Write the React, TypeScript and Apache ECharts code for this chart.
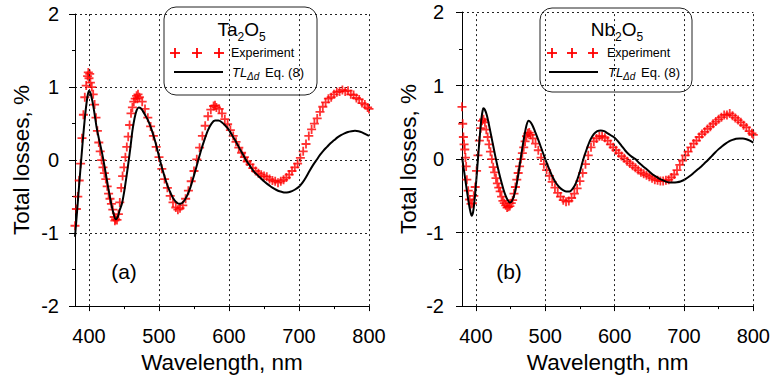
import React, { useEffect, useRef } from "react";
import * as echarts from "echarts";

// ---- Data ----
const majorTicks = [400, 500, 600, 700, 800];
const minorTicks = [450, 550, 650, 750];

// (a) Ta2O5, model TL_Δd Eq. (8)
const taModelX = [380, 383, 386, 389, 392, 395, 398, 400, 402, 405, 408, 411, 414, 417, 420, 423, 426, 429, 432, 435, 438, 441, 444, 447, 450, 453, 456, 459, 462, 465, 468, 471, 474, 477, 480, 485, 490, 495, 500, 505, 510, 515, 520, 525, 530, 535, 540, 545, 550, 555, 560, 565, 570, 575, 580, 585, 590, 595, 600, 605, 610, 615, 620, 625, 630, 635, 640, 645, 650, 655, 660, 665, 670, 675, 680, 685, 690, 695, 700, 705, 710, 715, 720, 725, 730, 735, 740, 745, 750, 755, 760, 765, 770, 775, 780, 785, 790, 795, 800];
const taModelY = [-1.05, -0.7, -0.33, 0.02, 0.36, 0.66, 0.88, 0.95, 0.92, 0.8, 0.63, 0.44, 0.3, 0.17, 0.03, -0.13, -0.3, -0.46, -0.61, -0.73, -0.81, -0.78, -0.68, -0.6, -0.45, -0.26, -0.06, 0.16, 0.4, 0.57, 0.68, 0.72, 0.71, 0.67, 0.62, 0.53, 0.4, 0.24, 0.05, -0.13, -0.29, -0.42, -0.52, -0.58, -0.6, -0.57, -0.49, -0.37, -0.21, -0.04, 0.13, 0.28, 0.41, 0.5, 0.54, 0.54, 0.515, 0.47, 0.41, 0.33, 0.25, 0.16, 0.076, -0.01, -0.08, -0.15, -0.2, -0.245, -0.29, -0.33, -0.365, -0.395, -0.42, -0.435, -0.445, -0.44, -0.425, -0.4, -0.365, -0.31, -0.235, -0.15, -0.07, 0.0, 0.07, 0.13, 0.18, 0.23, 0.27, 0.31, 0.34, 0.365, 0.385, 0.395, 0.4, 0.395, 0.38, 0.355, 0.33];

// (a) Ta2O5, experiment
const taExpX = [380, 382, 384, 386, 388, 390, 392, 394, 396, 398, 399, 400, 401, 402, 404, 406, 408, 410, 412, 414, 416, 418, 420, 422, 424, 426, 428, 430, 432, 434, 436, 437, 438, 440, 442, 444, 446, 448, 450, 452, 454, 456, 458, 460, 462, 464, 466, 468, 469, 470, 472, 476, 480, 484, 488, 492, 496, 500, 504, 508, 512, 516, 520, 524, 527, 530, 534, 538, 542, 546, 550, 554, 558, 562, 566, 570, 574, 578, 580, 582, 586, 590, 594, 598, 602, 606, 610, 614, 618, 622, 626, 630, 634, 638, 642, 646, 650, 654, 658, 662, 666, 670, 674, 678, 682, 686, 690, 694, 698, 702, 706, 710, 714, 718, 722, 726, 730, 734, 738, 742, 746, 750, 754, 758, 762, 766, 770, 774, 778, 782, 786, 790, 794, 798, 800];
const taExpY = [-0.9, -0.67, -0.5, -0.28, -0.05, 0.3, 0.62, 0.86, 1.02, 1.15, 1.2, 1.12, 1.18, 1.06, 1.0, 0.9, 0.76, 0.58, 0.4, 0.24, 0.12, 0.0, -0.1, -0.18, -0.26, -0.36, -0.46, -0.53, -0.6, -0.68, -0.78, -0.83, -0.81, -0.82, -0.74, -0.58, -0.38, -0.22, -0.1, 0.04, 0.18, 0.32, 0.48, 0.64, 0.72, 0.8, 0.84, 0.88, 0.84, 0.9, 0.86, 0.8, 0.7, 0.58, 0.46, 0.33, 0.18, 0.04, -0.12, -0.26, -0.38, -0.49, -0.58, -0.65, -0.68, -0.66, -0.62, -0.53, -0.42, -0.29, -0.15, 0.01, 0.17, 0.33, 0.47, 0.6, 0.69, 0.74, 0.75, 0.72, 0.7, 0.64, 0.56, 0.49, 0.41, 0.33, 0.25, 0.17, 0.1, 0.04, -0.02, -0.06, -0.11, -0.15, -0.18, -0.2, -0.22, -0.23, -0.26, -0.28, -0.29, -0.31, -0.29, -0.27, -0.24, -0.2, -0.15, -0.1, -0.05, 0.03, 0.12, 0.22, 0.33, 0.42, 0.5, 0.57, 0.66, 0.73, 0.79, 0.84, 0.86, 0.9, 0.93, 0.94, 0.96, 0.94, 0.95, 0.9, 0.89, 0.85, 0.83, 0.78, 0.76, 0.72, 0.7];

// (b) Nb2O5, model TL_Δd Eq. (8)
const nbModelX = [380, 382, 384, 386, 388, 390, 392, 394, 396, 398, 400, 402, 404, 406, 408, 410, 411, 413, 416, 419, 422, 425, 428, 431, 434, 437, 440, 443, 446, 449, 452, 455, 458, 461, 464, 467, 470, 473, 476, 479, 482, 485, 490, 495, 500, 505, 510, 515, 520, 525, 530, 535, 540, 545, 550, 555, 560, 565, 570, 575, 580, 585, 590, 595, 600, 605, 610, 615, 620, 625, 630, 635, 640, 645, 650, 655, 660, 665, 670, 675, 680, 685, 690, 695, 700, 705, 710, 715, 720, 725, 730, 735, 740, 745, 750, 755, 760, 765, 770, 775, 780, 785, 790, 795, 800];
const nbModelY = [0.03, -0.1, -0.23, -0.36, -0.49, -0.61, -0.71, -0.77, -0.72, -0.57, -0.36, -0.12, 0.12, 0.35, 0.55, 0.67, 0.69, 0.67, 0.59, 0.46, 0.32, 0.18, 0.04, -0.09, -0.21, -0.32, -0.42, -0.5, -0.56, -0.59, -0.57, -0.5, -0.38, -0.22, -0.03, 0.15, 0.32, 0.46, 0.52, 0.5, 0.45, 0.38, 0.26, 0.13, 0.0, -0.12, -0.23, -0.32, -0.38, -0.42, -0.44, -0.44, -0.4, -0.31, -0.17, 0.0, 0.14, 0.26, 0.34, 0.38, 0.39, 0.38, 0.35, 0.32, 0.29, 0.24, 0.18, 0.12, 0.07, 0.03, 0.0, -0.05, -0.09, -0.13, -0.17, -0.21, -0.24, -0.27, -0.29, -0.31, -0.32, -0.32, -0.315, -0.305, -0.285, -0.255, -0.22, -0.18, -0.14, -0.1, -0.055, -0.01, 0.04, 0.09, 0.135, 0.175, 0.21, 0.24, 0.26, 0.275, 0.28, 0.28, 0.27, 0.25, 0.225];

// (b) Nb2O5, experiment
const nbExpX = [380, 381, 382, 383, 384, 385, 386, 387, 389, 391, 393, 395, 397, 399, 401, 403, 405, 407, 409, 411, 413, 415, 417, 419, 421, 423, 425, 427, 429, 431, 433, 435, 437, 439, 441, 443, 445, 447, 449, 451, 453, 455, 457, 459, 461, 463, 465, 467, 469, 471, 473, 475, 477, 479, 482, 486, 490, 494, 498, 502, 506, 510, 514, 518, 522, 526, 530, 534, 538, 542, 546, 550, 554, 558, 562, 566, 570, 574, 578, 582, 586, 590, 594, 598, 602, 606, 610, 614, 618, 622, 626, 630, 634, 638, 642, 646, 650, 654, 658, 662, 666, 670, 674, 678, 682, 686, 690, 694, 698, 702, 706, 710, 714, 718, 722, 726, 730, 734, 738, 742, 746, 750, 754, 758, 762, 766, 770, 774, 778, 782, 786, 790, 794, 798, 800];
const nbExpY = [0.71, 0.48, 0.3, 0.2, 0.13, 0.02, -0.1, -0.28, -0.43, -0.55, -0.61, -0.6, -0.5, -0.38, -0.16, 0.05, 0.25, 0.42, 0.52, 0.54, 0.5, 0.4, 0.3, 0.2, 0.1, 0.0, -0.11, -0.18, -0.26, -0.33, -0.39, -0.44, -0.51, -0.57, -0.6, -0.63, -0.66, -0.65, -0.64, -0.6, -0.56, -0.47, -0.38, -0.28, -0.19, -0.1, 0.0, 0.08, 0.16, 0.24, 0.31, 0.35, 0.36, 0.33, 0.28, 0.21, 0.12, 0.02, -0.07, -0.15, -0.23, -0.31, -0.39, -0.46, -0.51, -0.56, -0.58, -0.57, -0.53, -0.47, -0.4, -0.3, -0.19, -0.07, 0.05, 0.16, 0.24, 0.28, 0.31, 0.31, 0.29, 0.25, 0.2, 0.16, 0.12, 0.08, 0.04, 0.01, -0.03, -0.06, -0.09, -0.12, -0.15, -0.18, -0.2, -0.22, -0.24, -0.26, -0.28, -0.29, -0.3, -0.3, -0.29, -0.28, -0.25, -0.21, -0.15, -0.08, -0.02, 0.05, 0.1, 0.16, 0.21, 0.25, 0.3, 0.34, 0.37, 0.41, 0.44, 0.48, 0.51, 0.54, 0.57, 0.6, 0.6, 0.62, 0.59, 0.56, 0.53, 0.5, 0.46, 0.43, 0.38, 0.35, 0.33];

const FONT = "'Liberation Sans', Arial, sans-serif";
const PLUS = "path://M4,0 L6,0 L6,4 L10,4 L10,6 L6,6 L6,10 L4,10 L4,6 L0,6 L0,4 L4,4 Z";

const pairs = (xs: number[], ys: number[]) => xs.map((x, i) => [x, ys[i]]);

function plusMark(cx: number, cy: number) {
  return [
    { type: "rect", shape: { x: cx - 5, y: cy - 0.9, width: 10, height: 1.8 }, style: { fill: "#ff0000" } },
    { type: "rect", shape: { x: cx - 0.9, y: cy - 5, width: 1.8, height: 10 }, style: { fill: "#ff0000" } },
  ];
}

function legendBox(bx: number, by: number, bw: number, bh: number, el: string, pluses: number[], lineX: number, textX: number) {
  const t = (text: string, x: number, y: number, size: number, italic = false) => ({
    type: "text",
    x,
    y,
    style: { text, fontSize: size, fontFamily: FONT, fontStyle: italic ? "italic" : "normal", fill: "#000", align: "left", verticalAlign: "middle" },
  });
  return [
    { type: "rect", shape: { x: bx, y: by, width: bw, height: bh, r: 12 }, style: { fill: "#fff", stroke: "#222", lineWidth: 1 } },
    {
      type: "text",
      x: bx + bw / 2 + 1,
      y: 29,
      style: {
        text: `{b|${el}}{s|2}{b|O}{s|5}`,
        align: "center",
        verticalAlign: "middle",
        fill: "#000",
        rich: {
          b: { fontSize: 19, fontFamily: FONT, lineHeight: 28, verticalAlign: "middle", fill: "#000" },
          s: { fontSize: 12, fontFamily: FONT, lineHeight: 14, verticalAlign: "bottom", fill: "#000" },
        },
      },
    },
    ...plusMark(pluses[0], 53),
    ...plusMark(pluses[1], 53),
    ...plusMark(pluses[2], 53),
    t("Experiment", textX, 53, 12.5),
    { type: "line", shape: { x1: lineX, y1: 72, x2: lineX + 49, y2: 72 }, style: { stroke: "#000", lineWidth: 2 } },
    t("TL", textX + 1, 72, 13, true),
    t("Δd", textX + 16, 76, 10, true),
    t("Eq. (8)", textX + 34, 72, 13),
  ];
}

function xAxes(grid: number) {
  return [
    {
      gridIndex: grid,
      type: "value",
      min: 380,
      max: 800,
      axisLine: { show: true, onZero: false, lineStyle: { color: "#000", width: 1 } },
      axisTick: { show: true, customValues: majorTicks, length: 5, lineStyle: { color: "#000" } },
      axisLabel: { customValues: majorTicks, fontSize: 20, color: "#000", margin: 20, fontFamily: FONT },
      splitLine: { show: false },
      name: "Wavelength, nm",
      nameLocation: "middle",
      nameGap: 43,
      nameTextStyle: { fontSize: 22.5, color: "#000", fontFamily: FONT },
    },
    {
      gridIndex: grid,
      type: "value",
      min: 380,
      max: 800,
      position: "bottom",
      axisLine: { show: false, onZero: false },
      axisTick: { show: true, customValues: minorTicks, length: 3, lineStyle: { color: "#000" } },
      axisLabel: { show: false },
      splitLine: { show: false },
    },
  ];
}

function yAxis(grid: number, margin: number) {
  return {
    gridIndex: grid,
    type: "value",
    min: -2,
    max: 2,
    interval: 1,
    axisLine: { show: true, onZero: false, lineStyle: { color: "#000", width: 1 } },
    axisTick: { show: true, length: 6, lineStyle: { color: "#000" } },
    minorTick: { show: true, splitNumber: 2, length: 3, lineStyle: { color: "#000" } },
    axisLabel: { fontSize: 20, color: "#000", margin, fontFamily: FONT },
    splitLine: { show: true, lineStyle: { type: [2, 3], color: "#222", width: 1 } },
    name: "Total losses, %",
    nameLocation: "middle",
    nameGap: 42,
    nameTextStyle: { fontSize: 22.5, color: "#000", fontFamily: FONT },
  };
}

function gridLines() {
  return {
    silent: true,
    symbol: ["none", "none"],
    label: { show: false },
    lineStyle: { type: [2, 3], color: "#222", width: 1 },
    data: majorTicks.map((v) => ({ xAxis: v })),
  };
}

export default function App() {
  const ref = useRef<HTMLDivElement>(null);
  useEffect(() => {
    if (!ref.current) return;
    const chart = echarts.init(ref.current, null, { renderer: "svg" });
    chart.setOption({
      animation: false,
      backgroundColor: "#fff",
      grid: [
        { left: 75, top: 14, width: 294, height: 296 },
        { left: 462, top: 12, width: 293, height: 296 },
      ],
      xAxis: [...xAxes(0), ...xAxes(1)],
      yAxis: [yAxis(0, 16), yAxis(1, 18)],
      series: [
        {
          name: "Experiment a",
          type: "scatter",
          xAxisIndex: 0,
          yAxisIndex: 0,
          data: pairs(taExpX, taExpY),
          symbol: PLUS,
          symbolSize: 9,
          itemStyle: { color: "#ff0000" },
          markLine: gridLines(),
          z: 2,
        },
        {
          name: "Model a",
          type: "line",
          xAxisIndex: 0,
          yAxisIndex: 0,
          data: pairs(taModelX, taModelY),
          showSymbol: false,
          smooth: 0.3,
          lineStyle: { color: "#000", width: 2 },
          z: 3,
        },
        {
          name: "Experiment b",
          type: "scatter",
          xAxisIndex: 2,
          yAxisIndex: 1,
          data: pairs(nbExpX, nbExpY),
          symbol: PLUS,
          symbolSize: 9,
          itemStyle: { color: "#ff0000" },
          markLine: gridLines(),
          z: 2,
        },
        {
          name: "Model b",
          type: "line",
          xAxisIndex: 2,
          yAxisIndex: 1,
          data: pairs(nbModelX, nbModelY),
          showSymbol: false,
          smooth: 0.3,
          lineStyle: { color: "#000", width: 2 },
          z: 3,
        },
      ],
      graphic: [
        ...legendBox(164, 7, 153, 88, "Ta", [175, 197, 219], 174, 231),
        ...legendBox(540, 8, 152, 84, "Nb", [552, 572, 593], 549, 607),
        { type: "text", x: 124, y: 271, style: { text: "(a)", fontSize: 21, fontFamily: FONT, fill: "#000", align: "center", verticalAlign: "middle" } },
        { type: "text", x: 509, y: 271, style: { text: "(b)", fontSize: 21, fontFamily: FONT, fill: "#000", align: "center", verticalAlign: "middle" } },
      ],
    });
    return () => chart.dispose();
  }, []);
  return <div ref={ref} style={{ position: "fixed", left: 0, top: 0, width: 773, height: 379, background: "#fff" }} />;
}
